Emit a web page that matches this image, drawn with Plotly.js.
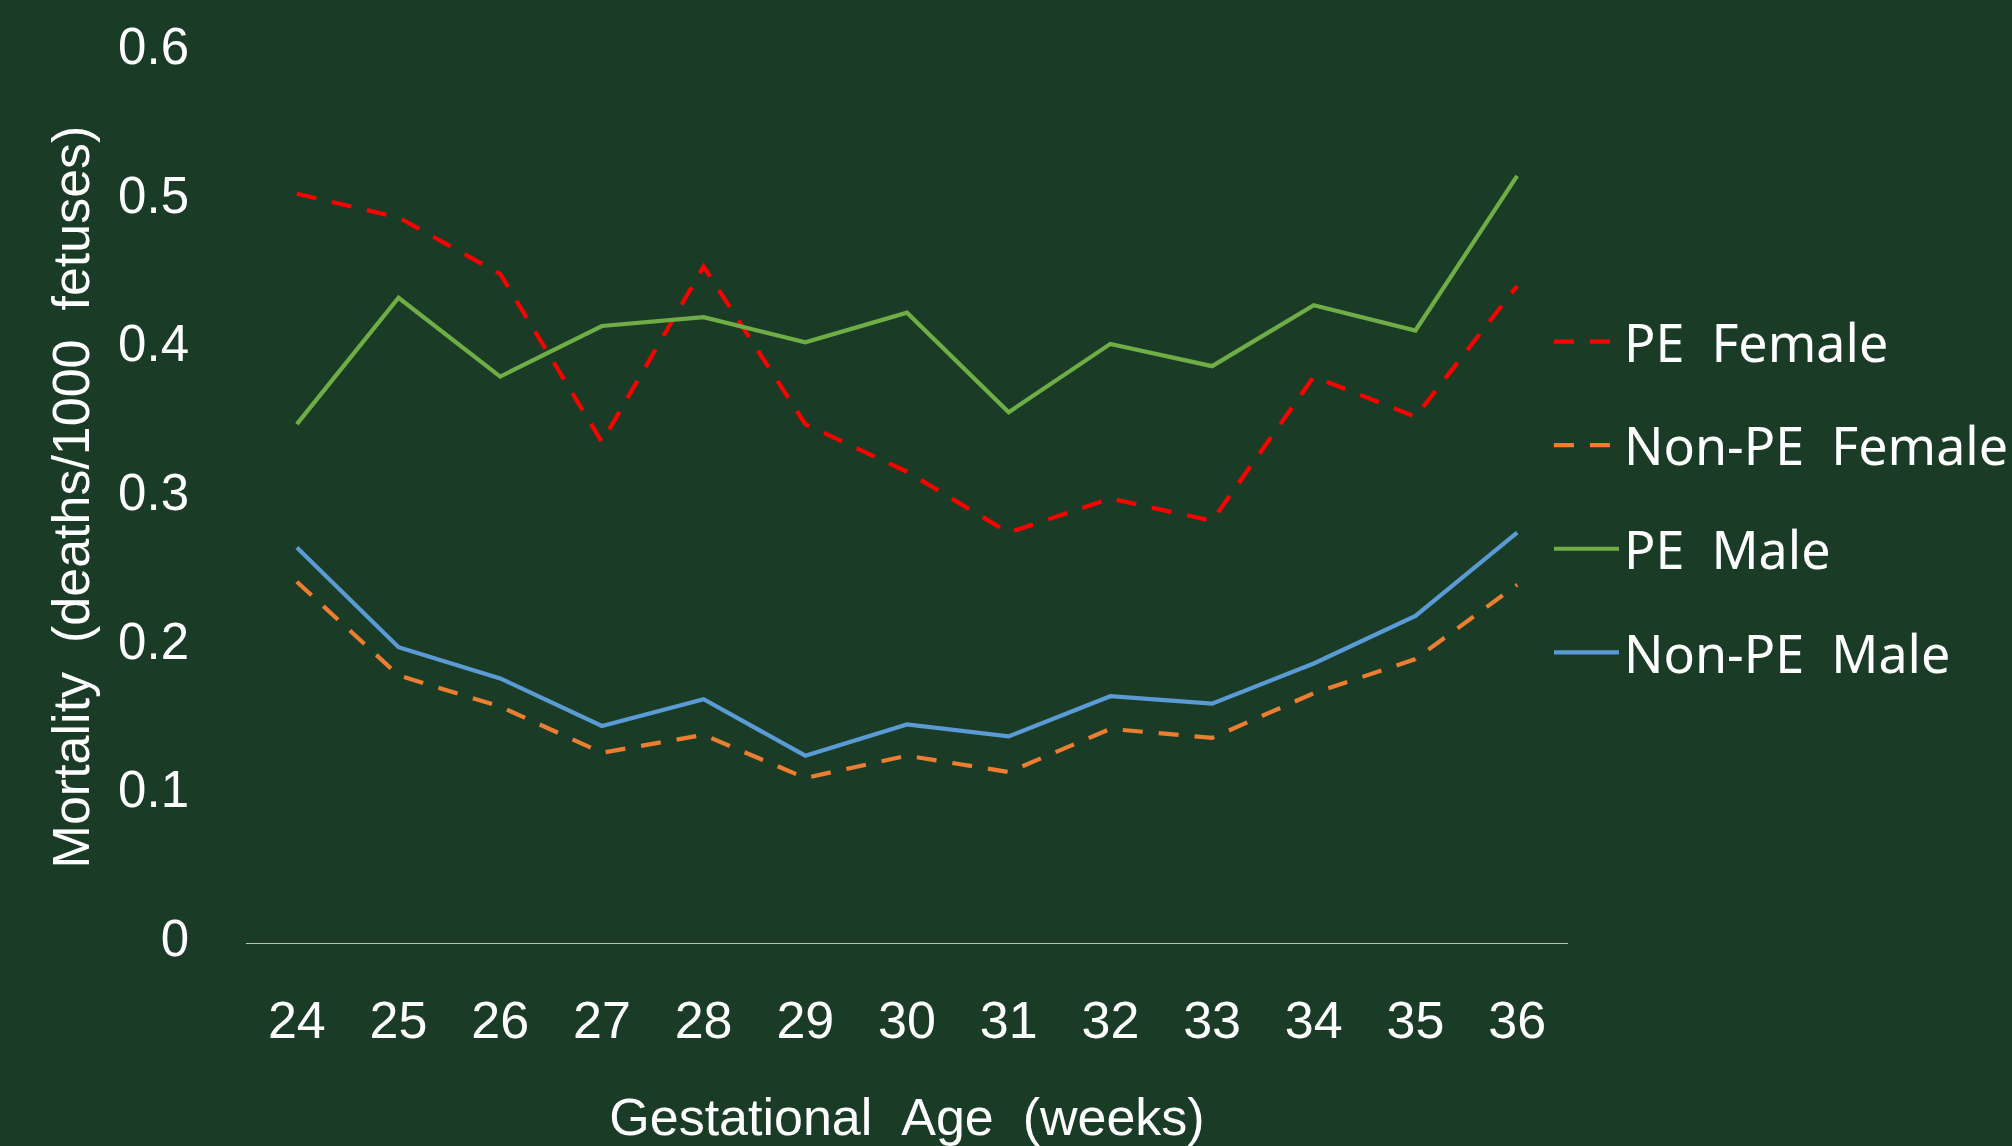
<!DOCTYPE html>
<html>
<head>
<meta charset="utf-8">
<script src="https://cdn.plot.ly/plotly-3.0.1.min.js"></script>
<style>
  html, body { margin: 0; padding: 0; background: #1A3C26; }
  #chart { width: 2012px; height: 1146px; }
</style>
</head>
<body>
<div id="chart"></div>
<script>
// Gestational age (weeks)
const weeks = [24, 25, 26, 27, 28, 29, 30, 31, 32, 33, 34, 35, 36];
const weekLabels = ["24", "25", "26", "27", "28", "29", "30", "31", "32", "33", "34", "35", "36"];

// Mortality (deaths/1000 fetuses)
const peFemale    = [0.504, 0.488, 0.450, 0.337, 0.455, 0.349, 0.317, 0.276, 0.299, 0.284, 0.381, 0.354, 0.442];
const nonPeFemale = [0.243, 0.180, 0.159, 0.128, 0.140, 0.111, 0.126, 0.115, 0.144, 0.138, 0.168, 0.191, 0.241];
const peMale      = [0.349, 0.434, 0.381, 0.415, 0.421, 0.404, 0.424, 0.357, 0.403, 0.388, 0.429, 0.412, 0.516];
const nonPeMale   = [0.266, 0.199, 0.178, 0.146, 0.164, 0.126, 0.147, 0.139, 0.166, 0.161, 0.188, 0.220, 0.276];

const yTickVals = [0, 0.1, 0.2, 0.3, 0.4, 0.5, 0.6];
const yTickText = ["0", "0.1", "0.2", "0.3", "0.4", "0.5", "0.6"];

const seriesNames = ["PE\u00a0\u00a0Female", "Non-PE\u00a0\u00a0Female", "PE\u00a0\u00a0Male", "Non-PE\u00a0\u00a0Male"];

const BG = "#1A3C26";
const DASH = "20px,16px";
const LW = 4.2;

const traces = [
  { x: weeks, y: peFemale, name: seriesNames[0], legendgroup: "g1",
    line: { color: "#FF0000", width: LW, dash: DASH } },
  { x: weeks, y: nonPeFemale, name: seriesNames[1], legendgroup: "g2",
    line: { color: "#ED7D31", width: LW, dash: DASH } },
  { x: weeks, y: peMale, name: seriesNames[2], legendgroup: "g3",
    line: { color: "#70AD47", width: LW } },
  { x: weeks, y: nonPeMale, name: seriesNames[3], legendgroup: "g4",
    line: { color: "#5B9BD5", width: LW } }
].map(t => Object.assign({ type: "scatter", mode: "lines", hoverinfo: "x+y+name" }, t));

const layout = {
  width: 2012,
  height: 1146,
  paper_bgcolor: BG,
  plot_bgcolor: BG,
  margin: { l: 246, r: 444, t: 51, b: 203, pad: 0, autoexpand: false },
  font: { family: "Liberation Sans, Arial, sans-serif", color: "#FFFFFF", size: 51 },
  showlegend: true,
  legend: {
    x: 0.9856, xanchor: "left",
    y: 0.4997, yanchor: "middle",
    bgcolor: "rgba(0,0,0,0)",
    borderwidth: 0,
    traceorder: "grouped",
    tracegroupgap: 33,
    itemwidth: 65,
    font: { family: "Noto Sans, Open Sans, sans-serif", size: 52, color: "#FFFFFF" }
  },
  xaxis: {
    range: [23.5, 36.5],
    tickvals: weeks,
    ticktext: weekLabels,
    showgrid: false,
    zeroline: false,
    showline: true,
    linecolor: "#BFBFBF",
    linewidth: 1.3,
    ticks: "",
    ticklabelstandoff: 31,
    tickfont: { size: 52, color: "#FFFFFF" },
    title: { text: "Gestational\u00a0\u00a0Age\u00a0\u00a0(weeks)", font: { size: 52, color: "#FFFFFF" }, standoff: 69 },
    fixedrange: true
  },
  yaxis: {
    range: [0, 0.6],
    tickvals: yTickVals,
    ticktext: yTickText,
    showgrid: false,
    zeroline: false,
    showline: false,
    ticks: "",
    ticklabelstandoff: 56,
    ticklabelshift: -5,
    tickfont: { size: 51, color: "#FFFFFF" },
    title: { text: "Mortality\u00a0\u00a0(deaths/1000\u00a0\u00a0fetuses)", font: { size: 52, color: "#FFFFFF" }, standoff: 11 },
    fixedrange: true
  }
};

Plotly.newPlot("chart", traces, layout, { displayModeBar: false, staticPlot: false });
</script>
</body>
</html>
